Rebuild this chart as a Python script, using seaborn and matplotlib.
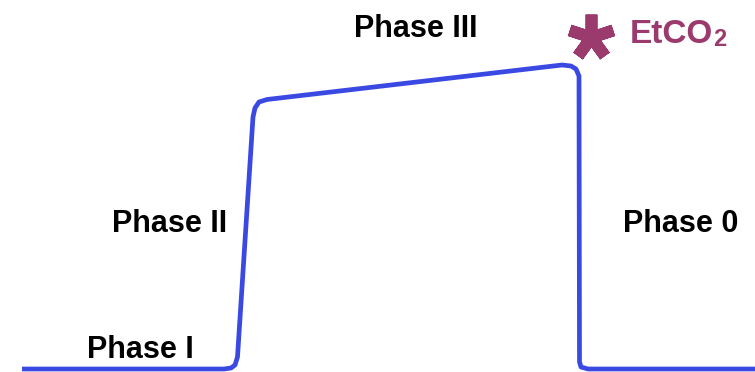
import matplotlib
matplotlib.use("Agg")
import matplotlib.pyplot as plt
import seaborn as sns
import pandas as pd

sns.set_theme(style="white")
plt.rcParams['font.family'] = ['Liberation Sans', 'DejaVu Sans']

# Capnography waveform (arbitrary units)
time = [22, 224, 231, 235, 237.5, 253, 255, 259, 267, 562, 571, 576, 579, 579.5, 581, 588, 755]
co2 = [3, 3, 4, 7, 15, 255, 264, 270, 272.5, 307, 306, 303, 296, 10, 5, 3, 3]

phase_labels = ["Phase I", "Phase II", "Phase III", "Phase 0"]
phase_x = [140, 170, 416, 681]
phase_y = [14, 140, 335, 140]

etco2_label = "EtCO"
etco2_sub = "2"
star_x, star_y = 591, 335

LINE = "#3b49e3"
PLUM = "#9b3a6c"

df = pd.DataFrame({"time": time, "co2": co2})

fig = plt.figure(figsize=(7.55, 3.72), dpi=100)
ax = fig.add_axes([0, 0, 1, 1])
sns.lineplot(data=df, x="time", y="co2", sort=False, estimator=None,
             color=LINE, linewidth=3.4, ax=ax, solid_joinstyle="round",
             solid_capstyle="butt")
ax.set_xlim(0, 755)
ax.set_ylim(0, 372)
ax.axis("off")

for lab, x, y in zip(phase_labels, phase_x, phase_y):
    ax.text(x, y, lab, ha="center", va="baseline", fontsize=22,
            fontweight="bold", color="black")

ax.plot([star_x], [star_y], marker=(5, 2, 0), markersize=33,
        markeredgewidth=8.5, color=PLUM, linestyle="none")
ax.text(630, 329, etco2_label, ha="left", va="baseline", fontsize=24,
        fontweight="bold", color=PLUM)
ax.text(713.5, 326, etco2_sub, ha="left", va="baseline", fontsize=17,
        fontweight="bold", color=PLUM)

fig.savefig("out.png", dpi=100)
